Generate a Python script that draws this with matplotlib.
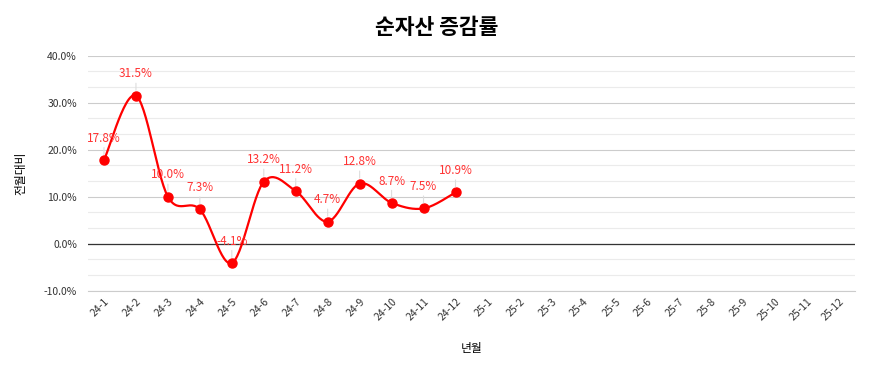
import numpy as np
import matplotlib
matplotlib.use("Agg")
import matplotlib.pyplot as plt
from matplotlib.ticker import MultipleLocator, FuncFormatter

plt.rcParams['font.family'] = ['Noto Sans CJK KR', 'DejaVu Sans']

months = ["24-%d" % m for m in range(1, 13)] + ["25-%d" % m for m in range(1, 13)]
values = [17.8, 31.5, 10.0, 7.3, -4.1, 13.2, 11.2, 4.7, 12.8, 8.7, 7.5, 10.9]
title = "순자산 증감률"
xlabel = "년월"
ylabel = "전월대비"


def smooth(xs, ys, n=30):
    # catmull-rom style curve through the points
    xs = np.asarray(xs, float)
    ys = np.asarray(ys, float)
    px = np.concatenate([[xs[0]], xs, [xs[-1]]])
    py = np.concatenate([[ys[0]], ys, [ys[-1]]])
    outx, outy = [], []
    for i in range(1, len(px) - 2):
        p0 = np.array([px[i], py[i]])
        p3 = np.array([px[i + 1], py[i + 1]])
        c1 = p0 + (np.array([px[i + 1], py[i + 1]]) - np.array([px[i - 1], py[i - 1]])) / 6
        c2 = p3 - (np.array([px[i + 2], py[i + 2]]) - np.array([px[i], py[i]])) / 6
        t = np.linspace(0, 1, n)[:, None]
        b = (1 - t) ** 3 * p0 + 3 * (1 - t) ** 2 * t * c1 + 3 * (1 - t) * t ** 2 * c2 + t ** 3 * p3
        outx.extend(b[:, 0])
        outy.extend(b[:, 1])
    return outx, outy


fig = plt.figure(figsize=(8.74, 3.67), dpi=100)
ax = fig.add_axes([0.1007, 0.208, 0.8775, 0.640])

x = np.arange(len(values))
sx, sy = smooth(x, values)
ax.plot(sx, sy, color='#ff0000', lw=1.6, zorder=3)
ax.plot(x, values, 'o', color='#ff0000', ms=6.5, zorder=4)

for xi, v in zip(x, values):
    ax.annotate("%.1f%%" % v, xy=(xi, v), xytext=(0, 11), textcoords='offset points',
                ha='center', va='bottom', fontsize=8.5, color='#ff3333',
                arrowprops=dict(arrowstyle='-', color='#dddddd', lw=0.8, shrinkA=0, shrinkB=4),
                zorder=5)

ax.set_xlim(-0.5, len(months) - 0.5)
ax.set_ylim(-10, 40)
ax.set_xticks(np.arange(len(months)))
ax.set_xticklabels(months, rotation=45, ha='right', rotation_mode='anchor', fontsize=7.5, color='#333333')
ax.yaxis.set_major_locator(MultipleLocator(10))
ax.yaxis.set_minor_locator(MultipleLocator(10 / 3))
ax.yaxis.set_major_formatter(FuncFormatter(lambda v, p: "%.1f%%" % v))
ax.tick_params(axis='y', labelsize=7.5, labelcolor='#333333', length=0, which='both', pad=8)
ax.tick_params(axis='x', length=0, pad=4)

ax.grid(True, which='major', axis='y', color='#cccccc', lw=0.8)
ax.grid(True, which='minor', axis='y', color='#ebebeb', lw=0.8)
ax.axhline(0, color='#333333', lw=0.9, zorder=2)
ax.set_axisbelow(True)
for s in ['top', 'right', 'left']:
    ax.spines[s].set_visible(False)
ax.spines['bottom'].set_color('#cccccc')

fig.suptitle(title, x=0.5, y=0.925, fontsize=15.5, fontweight='bold', va='center')
ax.set_xlabel(xlabel, fontsize=8.5, labelpad=14)
ax.set_ylabel(ylabel, fontsize=8.5, labelpad=12)

fig.savefig("out.png", dpi=100)
